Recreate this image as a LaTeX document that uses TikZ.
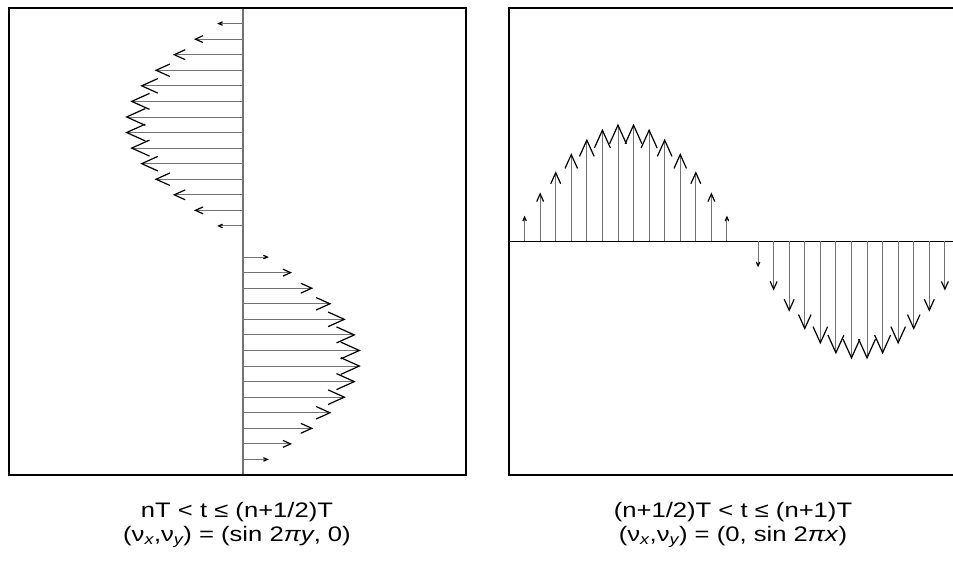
\documentclass[tikz,border=0pt]{standalone}
\usepackage{fontspec}
\setmainfont{Liberation Sans}[FakeStretch=1.22]

\begin{document}
\begin{tikzpicture}[x=1pt, y=-1pt,
    frame/.style={draw=black, line width=2.4pt},
    shaft/.style={draw=black!55, line width=0.9pt},
    barb/.style={draw=black, line width=1.2pt, line join=miter},
    caption/.style={font=\fontsize{21}{24}\selectfont, inner sep=0pt, anchor=base}]
  \useasboundingbox (0,0) rectangle (953,561);
  \clip (0,0) rectangle (953,561);

  % Left panel: v_x = sin 2 pi y
  \draw[black!55, line width=1.4pt] (243,8) -- (243,475);
  \foreach \i in {1,...,14,16,17,...,29}{
    \pgfmathsetmacro{\yy}{8+15.567*\i}
    \pgfmathsetmacro{\dx}{-117*sin(12*\i)}
    \pgfmathsetmacro{\hw}{0.072*abs(\dx)}
    \draw[shaft] (243,\yy) -- ++(\dx,0);
    \draw[barb] (243+0.84*\dx,\yy-\hw) -- (243+\dx,\yy) -- (243+0.84*\dx,\yy+\hw);
  }
  \draw[frame] (9,8) rectangle (466,475);

  % Right panel: v_y = sin 2 pi x
  \draw[black, line width=1.4pt] (509,241.5) -- (976,241.5);
  \foreach \i in {1,...,14,16,17,...,29}{
    \pgfmathsetmacro{\xx}{509+15.567*\i}
    \pgfmathsetmacro{\dy}{117*sin(12*\i)}
    \pgfmathsetmacro{\hw}{0.072*abs(\dy)}
    \draw[shaft] (\xx,241.5) -- ++(0,-\dy);
    \draw[barb] (\xx-\hw,241.5-0.84*\dy) -- (\xx,241.5-\dy) -- (\xx+\hw,241.5-0.84*\dy);
  }
  \draw[frame] (509,8) rectangle (976,475);

  % Captions
  \node[caption] (capL1) at (237,517) {nT < t ≤ (n+1/2)T};
  \node[caption] (capL2) at (237,541) {(ν\textsubscript{\itshape x},ν\textsubscript{\itshape y}) = (sin 2\textit{πy}, 0)};
  \node[caption] (capR1) at (733,517) {(n+1/2)T < t ≤ (n+1)T};
  \node[caption] (capR2) at (733,541) {(ν\textsubscript{\itshape x},ν\textsubscript{\itshape y}) = (0, sin 2\textit{πx})};
\end{tikzpicture}
\end{document}
